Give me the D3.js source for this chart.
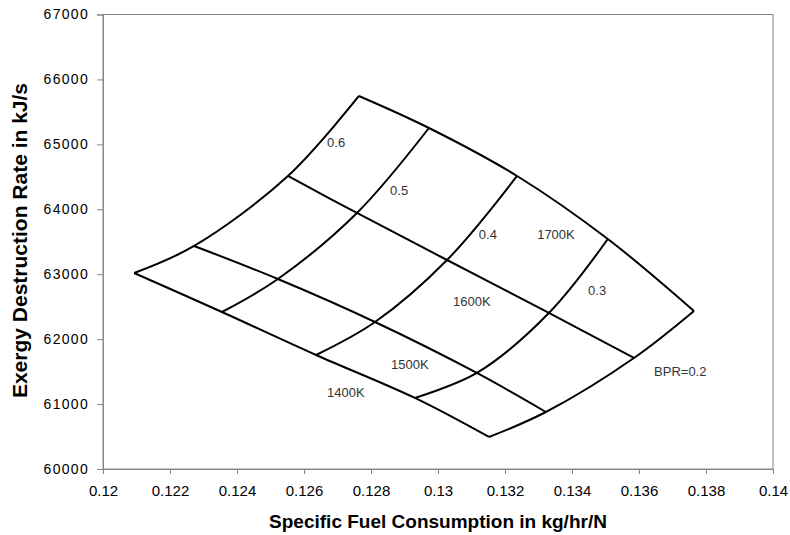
<!DOCTYPE html>
<html>
<head>
<meta charset="utf-8">
<script src="https://cdn.jsdelivr.net/npm/d3@7"></script>
<style>
  html, body { margin: 0; padding: 0; background: #fff; }
  svg { display: block; font-family: Arial, "Liberation Sans", sans-serif; }
</style>
</head>
<body>
<svg id="chart" width="790" height="535"></svg>
<script>
// Bypass-ratio levels along each turbine-inlet-temperature line
const bprLevels = [0.6, 0.5, 0.4, 0.3, 0.2];
const tempLevels = ["1400K", "1500K", "1600K", "1700K"];

// Specific fuel consumption (kg/hr/N) at each BPR level, per temperature
const sfc1400 = [0.12093, 0.12355, 0.12636, 0.12931, 0.13152];
const sfc1500 = [0.12272, 0.12522, 0.12812, 0.13116, 0.13322];
const sfc1600 = [0.12552, 0.12758, 0.13027, 0.13331, 0.13585];
const sfc1700 = [0.12764, 0.12973, 0.13236, 0.13507, 0.13764];

// Exergy destruction rate (kJ/s) at each BPR level, per temperature
const exd1400 = [63019, 62418, 61756, 61094, 60493];
const exd1500 = [63435, 62926, 62264, 61479, 60878];
const exd1600 = [64513, 63943, 63219, 62403, 61710];
const exd1700 = [65745, 65252, 64513, 63542, 62434];

// Axis ticks
const xTicks = [0.12, 0.122, 0.124, 0.126, 0.128, 0.13, 0.132, 0.134, 0.136, 0.138, 0.14];
const yTicks = [60000, 61000, 62000, 63000, 64000, 65000, 66000, 67000];

// Curve annotations (text and anchor in data units)
const labelText = ["0.6", "0.5", "0.4", "0.3", "BPR=0.2", "1700K", "1600K", "1500K", "1400K"];
const labelSfc  = [0.12669, 0.12857, 0.13122, 0.13448, 0.13645, 0.13296, 0.13045, 0.12860, 0.12669];
const labelExd  = [65036, 64297, 63620, 62757, 61510, 63620, 62588, 61617, 61186];

const sfcByTemp = [sfc1400, sfc1500, sfc1600, sfc1700];
const exdByTemp = [exd1400, exd1500, exd1600, exd1700];

const svg = d3.select("#chart");
const plotLeft = 103, plotRight = 773, plotTop = 14.5, plotBottom = 469;

const x = d3.scaleLinear().domain([0.12, 0.14]).range([plotLeft, plotRight]);
const y = d3.scaleLinear().domain([60000, 67000]).range([plotBottom, plotTop]);

// Plot frame
svg.append("rect")
  .attr("x", plotLeft).attr("y", plotTop)
  .attr("width", plotRight - plotLeft).attr("height", plotBottom - plotTop)
  .attr("fill", "none").attr("stroke", "#868686").attr("stroke-width", 1);

// Axes
const xAxis = svg.append("g")
  .attr("transform", `translate(0,${plotBottom})`)
  .call(d3.axisBottom(x).tickValues(xTicks).tickFormat(d3.format("")).tickSize(5).tickPadding(11));
const yAxis = svg.append("g")
  .attr("transform", `translate(${plotLeft},0)`)
  .call(d3.axisLeft(y).tickValues(yTicks).tickFormat(d3.format("d")).tickSize(6).tickPadding(8));

[xAxis, yAxis].forEach(g => {
  g.select(".domain").attr("stroke", "#868686");
  g.selectAll(".tick line").attr("stroke", "#868686");
  g.selectAll(".tick text").attr("fill", "#000").attr("font-family", "Arial, 'Liberation Sans', sans-serif");
});
xAxis.selectAll(".tick text").attr("font-size", 15);
yAxis.selectAll(".tick text").attr("font-size", 14).attr("letter-spacing", "1.3px");

// Mesh lines
const line = d3.line()
  .x(d => x(d[0])).y(d => y(d[1]))
  .curve(d3.curveCatmullRom.alpha(0.5));

const mesh = svg.append("g").attr("fill", "none").attr("stroke", "#000").attr("stroke-width", 2);

// Constant-temperature lines
sfcByTemp.forEach((s, i) => {
  mesh.append("path").attr("d", line(s.map((v, j) => [v, exdByTemp[i][j]])));
});

// Constant-BPR lines
bprLevels.forEach((b, j) => {
  mesh.append("path").attr("d", line(sfcByTemp.map((s, i) => [s[j], exdByTemp[i][j]])));
});

// Annotations
svg.append("g").selectAll("text")
  .data(labelText)
  .join("text")
  .attr("x", (d, i) => x(labelSfc[i]))
  .attr("y", (d, i) => y(labelExd[i]))
  .attr("dy", "0.35em")
  .attr("font-size", 13)
  .attr("fill", "#333")
  .text(d => d);

// Axis titles
svg.append("text")
  .attr("x", (plotLeft + plotRight) / 2).attr("y", 528)
  .attr("text-anchor", "middle")
  .attr("font-size", 19).attr("font-weight", "bold")
  .text("Specific Fuel Consumption in kg/hr/N");

svg.append("text")
  .attr("transform", `translate(27,240.5) rotate(-90)`)
  .attr("text-anchor", "middle")
  .attr("font-size", 21).attr("font-weight", "bold")
  .text("Exergy Destruction Rate in kJ/s");
</script>
</body>
</html>
